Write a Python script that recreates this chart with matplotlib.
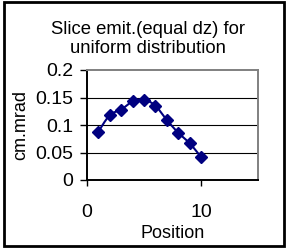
import matplotlib
matplotlib.use("Agg")
import matplotlib.pyplot as plt
import numpy as np
from matplotlib.patches import Rectangle

plt.rcParams['font.family'] = ['Liberation Sans', 'DejaVu Sans']

position = [1, 2, 3, 4, 5, 6, 7, 8, 9, 10]
emittance = [0.088, 0.118, 0.128, 0.143, 0.146, 0.135, 0.109, 0.086, 0.067, 0.042]
y_ticks = [0, 0.05, 0.1, 0.15, 0.2]
y_tick_labels = ['0', '0.05', '0.1', '0.15', '0.2']
x_ticks = [0, 10]


def smooth(xs, ys, n=20):
    # Catmull-Rom style smoothing through the data points (like Excel smoothed line)
    xs = np.asarray(xs, float)
    ys = np.asarray(ys, float)
    px = np.concatenate([[xs[0]], xs, [xs[-1]]])
    py = np.concatenate([[ys[0]], ys, [ys[-1]]])
    ox, oy = [], []
    for i in range(1, len(px) - 2):
        t = np.linspace(0, 1, n)
        p0x, p1x, p2x, p3x = px[i-1], px[i], px[i+1], px[i+2]
        p0y, p1y, p2y, p3y = py[i-1], py[i], py[i+1], py[i+2]
        c1x = p1x + (p2x - p0x) / 6
        c1y = p1y + (p2y - p0y) / 6
        c2x = p2x - (p3x - p1x) / 6
        c2y = p2y - (p3y - p1y) / 6
        bx = (1-t)**3*p1x + 3*(1-t)**2*t*c1x + 3*(1-t)*t**2*c2x + t**3*p2x
        by = (1-t)**3*p1y + 3*(1-t)**2*t*c1y + 3*(1-t)*t**2*c2y + t**3*p2y
        ox.extend(bx)
        oy.extend(by)
    return ox, oy


fig = plt.figure(figsize=(2.87, 2.48), dpi=100)
ax = fig.add_axes([87/287, 68/248, 171/287, 110/248])

sx, sy = smooth(position, emittance)
ax.plot(sx, sy, color='#000080', lw=1.5)
ax.plot(position, emittance, linestyle='none', marker='D', ms=6.2,
        markerfacecolor='#000080', markeredgecolor='#000080')

ax.set_xlim(0, 15)
ax.set_ylim(0, 0.2)
ax.set_yticks(y_ticks)
ax.set_yticklabels(y_tick_labels)
ax.set_xticks(x_ticks)
for y in y_ticks[1:-1]:
    ax.axhline(y, color='black', lw=0.8, zorder=0)

ax.tick_params(axis='y', direction='out', length=5, width=1, labelsize=14, pad=5)
ax.tick_params(axis='x', direction='out', length=4.5, width=1, labelsize=14, pad=13)
for s in ['left', 'bottom']:
    ax.spines[s].set_color('black')
    ax.spines[s].set_linewidth(1.4)
for s in ['top', 'right']:
    ax.spines[s].set_color('#808080')
    ax.spines[s].set_linewidth(1.4)

ax.set_xlabel('Position', fontsize=13, labelpad=2.5)
ax.set_ylabel('cm.mrad', fontsize=13, labelpad=4)
fig.text(148/287, 1 - 39/248, 'Slice emit.(equal dz) for\nuniform distribution',
         ha='center', va='center', fontsize=13.3, linespacing=1.2)

fig.patches.append(Rectangle((3.5/287, 2/248), 280/287, 244/248, transform=fig.transFigure,
                             fill=False, edgecolor='black', lw=2))

fig.savefig('out.png', dpi=100)
